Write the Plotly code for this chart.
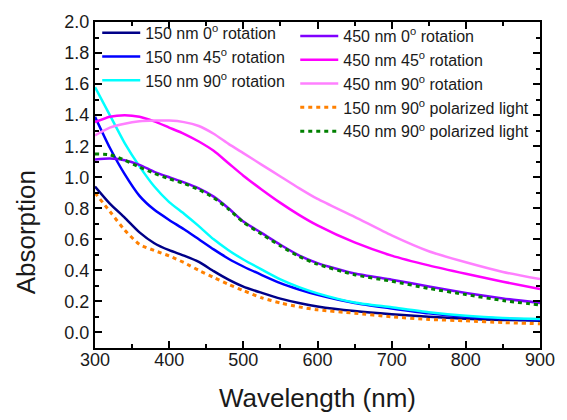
import plotly.graph_objects as go

wavelength = [300, 320, 340, 360, 380, 400, 420, 440, 460, 480, 500, 525, 550, 575, 600, 650, 700, 750, 800, 850, 900]

nm150_0 = [0.94, 0.83, 0.74, 0.645, 0.575, 0.53, 0.495, 0.455, 0.395, 0.34, 0.295, 0.255, 0.218, 0.19, 0.168, 0.138, 0.117, 0.101, 0.088, 0.081, 0.076]
nm150_45 = [1.39, 1.19, 1.02, 0.88, 0.79, 0.725, 0.665, 0.60, 0.535, 0.475, 0.425, 0.37, 0.318, 0.277, 0.243, 0.19, 0.155, 0.123, 0.101, 0.089, 0.082]
nm150_90 = [1.58, 1.40, 1.22, 1.07, 0.94, 0.84, 0.765, 0.685, 0.60, 0.53, 0.47, 0.405, 0.342, 0.292, 0.252, 0.193, 0.162, 0.13, 0.107, 0.093, 0.087]
nm450_0 = [1.115, 1.12, 1.11, 1.08, 1.035, 1.0, 0.967, 0.928, 0.875, 0.80, 0.715, 0.64, 0.565, 0.497, 0.447, 0.38, 0.34, 0.296, 0.254, 0.219, 0.19]
nm450_45 = [1.355, 1.39, 1.40, 1.39, 1.36, 1.32, 1.28, 1.23, 1.17, 1.09, 1.01, 0.92, 0.835, 0.758, 0.69, 0.58, 0.495, 0.432, 0.378, 0.327, 0.28]
nm450_90 = [1.27, 1.32, 1.345, 1.36, 1.365, 1.365, 1.355, 1.33, 1.28, 1.215, 1.155, 1.08, 1.005, 0.93, 0.86, 0.745, 0.625, 0.523, 0.452, 0.39, 0.344]
nm150_pol = [0.90, 0.78, 0.66, 0.567, 0.528, 0.493, 0.45, 0.40, 0.355, 0.31, 0.27, 0.223, 0.19, 0.165, 0.146, 0.124, 0.101, 0.084, 0.075, 0.064, 0.056]
nm450_pol = [1.15, 1.145, 1.11, 1.065, 1.025, 0.99, 0.96, 0.92, 0.868, 0.795, 0.71, 0.633, 0.558, 0.49, 0.44, 0.372, 0.33, 0.284, 0.244, 0.206, 0.177]

names = [
    "150 nm 0<sup>o</sup> rotation",
    "150 nm 45<sup>o</sup> rotation",
    "150 nm 90<sup>o</sup> rotation",
    "450 nm 0<sup>o</sup> rotation",
    "450 nm 45<sup>o</sup> rotation",
    "450 nm 90<sup>o</sup> rotation",
    "150 nm 90<sup>o</sup> polarized light",
    "450 nm 90<sup>o</sup> polarized light",
]
x_title = "Wavelength (nm)"
y_title = "Absorption"
series = [nm150_0, nm150_45, nm150_90, nm450_0, nm450_45, nm450_90, nm150_pol, nm450_pol]
colors = ["#000088", "#0000FF", "#00FFFF", "#8000FF", "#FF00FF", "#FF80FF", "#FF8000", "#008000"]
dashes = ["solid"] * 6 + ["4px,4px", "4px,4px"]
legends = ["legend"] * 3 + ["legend2"] * 5

fig = go.Figure()
for nm, ys, c, d, lg in zip(names, series, colors, dashes, legends):
    fig.add_trace(go.Scatter(
        x=wavelength, y=ys, mode="lines", name=nm,
        line=dict(color=c, width=2.5 if d == "solid" else 3, dash=d, shape="spline", smoothing=0.6),
        legend=lg,
    ))

font_family = "Liberation Sans, Arial, sans-serif"
txt = "#1a1a1a"
axis_common = dict(
    showline=True, linecolor="black", linewidth=2, mirror="ticks",
    ticks="inside", ticklen=7, tickwidth=2, tickcolor="black",
    showgrid=False, zeroline=False,
    tickfont=dict(family=font_family, size=18, color=txt),
)
fig.update_layout(
    width=567, height=420,
    margin=dict(l=95, r=16, t=20, b=65),
    plot_bgcolor="white", paper_bgcolor="white",
    font=dict(family=font_family, color=txt),
    xaxis=dict(range=[300, 900], tickvals=[300, 400, 500, 600, 700, 800, 900],
               minor=dict(ticks="inside", ticklen=4, tickwidth=2, tickcolor="black", dtick=50),
               ticklabelstandoff=-6,
               title=dict(text=x_title, font=dict(size=26, family=font_family, color=txt), standoff=20),
               **axis_common),
    yaxis=dict(range=[-0.1, 2.0], tickvals=[0, 0.2, 0.4, 0.6, 0.8, 1.0, 1.2, 1.4, 1.6, 1.8, 2.0],
               tickformat=".1f",
               minor=dict(ticks="inside", ticklen=4, tickwidth=2, tickcolor="black", dtick=0.1),
               **axis_common),
    legend=dict(x=0.005, y=1.019, xanchor="left", yanchor="top", bgcolor="rgba(0,0,0,0)",
                font=dict(size=16, family=font_family, color=txt), tracegroupgap=0, itemwidth=38),
    legend2=dict(x=0.45, y=1.009, xanchor="left", yanchor="top", bgcolor="rgba(0,0,0,0)",
                 font=dict(size=16, family=font_family, color=txt), tracegroupgap=0, itemwidth=38),
    showlegend=True,
    annotations=[dict(text=y_title, textangle=-90, xref="paper", yref="paper",
                      x=-0.155, y=0.355, xanchor="center", yanchor="middle", showarrow=False,
                      font=dict(size=26, family=font_family, color=txt))],
)
fig.write_html("out.html", config={"displayModeBar": False},
               post_script="document.body.style.margin='0';document.body.style.overflow='hidden';")
